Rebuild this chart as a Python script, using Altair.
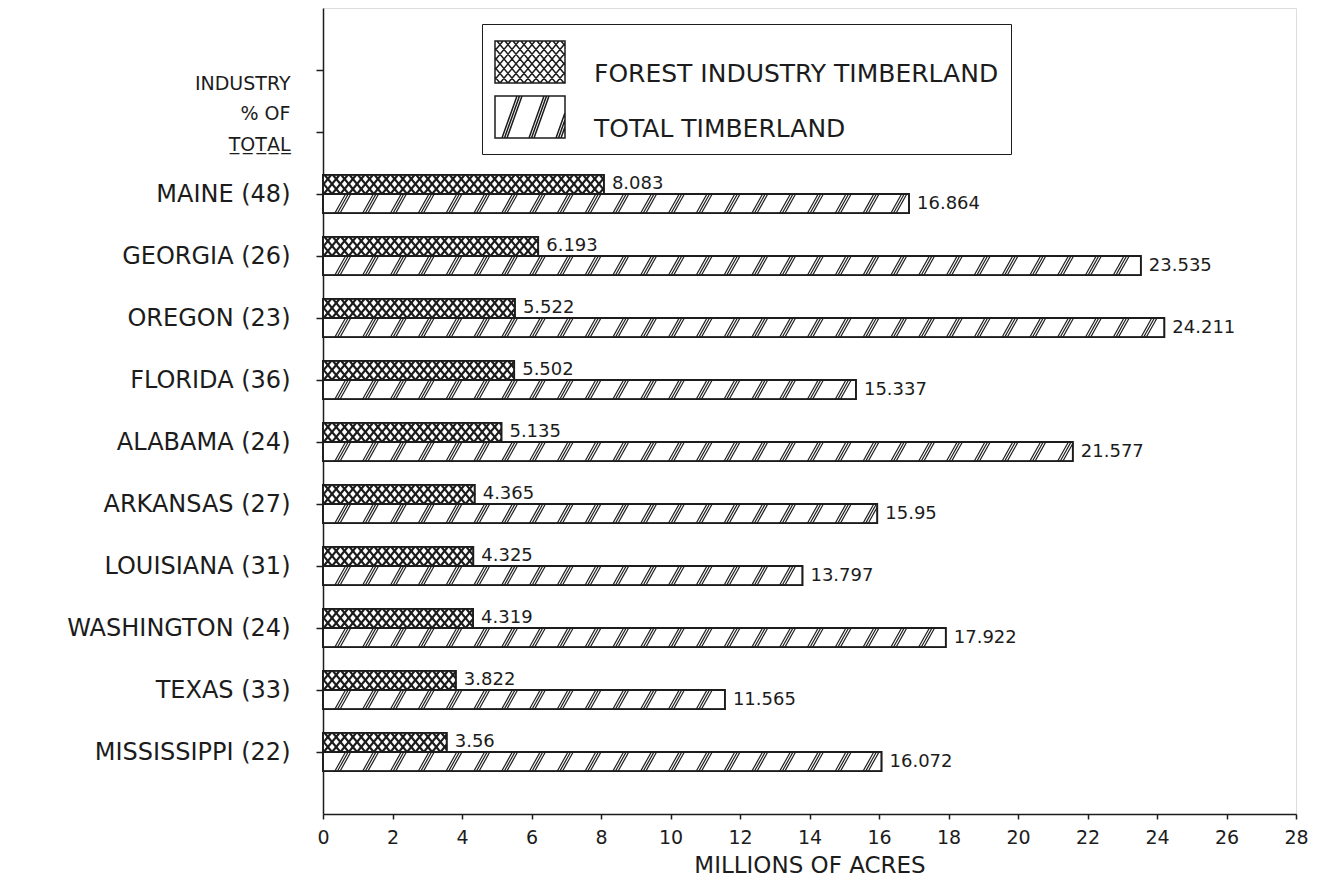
import json
import altair as alt
import pandas as pd

# ---------------- data ----------------
states = ["MAINE", "GEORGIA", "OREGON", "FLORIDA", "ALABAMA",
          "ARKANSAS", "LOUISIANA", "WASHINGTON", "TEXAS", "MISSISSIPPI"]
industry_pct = [48, 26, 23, 36, 24, 27, 31, 24, 33, 22]
forest_industry = [8.083, 6.193, 5.522, 5.502, 5.135, 4.365, 4.325, 4.319, 3.822, 3.56]
total_timberland = [16.864, 23.535, 24.211, 15.337, 21.577, 15.95, 13.797, 17.922, 11.565, 16.072]
forest_labels = ["8.083", "6.193", "5.522", "5.502", "5.135", "4.365", "4.325", "4.319", "3.822", "3.56"]
total_labels = ["16.864", "23.535", "24.211", "15.337", "21.577", "15.95", "13.797", "17.922", "11.565", "16.072"]
header_lines = ["INDUSTRY", "% OF", "TOTAL"]
series_names = ["FOREST INDUSTRY TIMBERLAND", "TOTAL TIMBERLAND"]
x_ticks = [0, 2, 4, 6, 8, 10, 12, 14, 16, 18, 20, 22, 24, 26, 28]
x_title = "MILLIONS OF ACRES"

# ---------------- style ----------------
INK = "#1c1c1c"
FONT = "DejaVu Sans"
FIRST_ROW = 3          # rows 1 and 2 hold the header ticks
N_ROWS = 13
BAR = 0.31             # bar thickness in row units

# ---------------- tables ----------------
rows = []
for i, st in enumerate(states):
    r = FIRST_ROW + i
    rows.append(dict(series=series_names[0], value=forest_industry[i],
                     y0=r - BAR, y1=r, ymid=r - BAR / 2, label=forest_labels[i]))
    rows.append(dict(series=series_names[1], value=total_timberland[i],
                     y0=r, y1=r + BAR, ymid=r + BAR / 2, label=total_labels[i]))
bars_df = pd.DataFrame(rows)


def hatch(x_end, y_top, y_bot, period, lean, offsets=(0.0,)):
    """Hatch segments clipped to a bar running from 0 to x_end."""
    segs = []
    span = abs(lean) + max(offsets)
    k = 0
    while True:
        c = -span + k * period
        if c > x_end + span:
            break
        for off in offsets:
            cc = c + off
            t0 = (0 - cc) / lean
            t1 = (x_end - cc) / lean
            lo = max(0.0, min(t0, t1))
            hi = min(1.0, max(t0, t1))
            if hi - lo > 1e-6:
                segs.append(dict(x=cc + lo * lean, x2=cc + hi * lean,
                                 y=y_bot - lo * (y_bot - y_top),
                                 y2=y_bot - hi * (y_bot - y_top)))
        k += 1
    return segs


cross, diag = [], []
for _, row in bars_df.iterrows():
    if row["series"] == series_names[0]:
        cross += hatch(row["value"], row["y0"], row["y1"], 0.24, 0.46)
        cross += hatch(row["value"], row["y0"], row["y1"], 0.24, -0.46)
    else:
        diag += hatch(row["value"], row["y0"], row["y1"], 0.80, 0.31, (0.0, 0.075, 0.15))
cross_df = pd.DataFrame(cross)
diag_df = pd.DataFrame(diag)


def swatch_path(period, lean, offsets=(0.0,), both=False, w=1.4, h=0.84):
    """Legend symbol: outlined rectangle [-w,w]x[-h,h] with hatch lines."""
    parts = [f"M{-w},{-h}L{w},{-h}L{w},{h}L{-w},{h}Z"]
    leans = [lean, -lean] if both else [lean]
    for ln in leans:
        span = abs(ln) + max(offsets)
        k = 0
        while True:
            c = -w - span + k * period
            if c > w + span:
                break
            for off in offsets:
                cc = c + off
                t0 = (-w - cc) / ln
                t1 = (w - cc) / ln
                lo = max(0.0, min(t0, t1))
                hi = min(1.0, max(t0, t1))
                if hi - lo > 1e-6:
                    xa, ya = cc + lo * ln, h - lo * 2 * h
                    xb, yb = cc + hi * ln, h - hi * 2 * h
                    parts.append(f"M{xa:.3f},{ya:.3f}L{xb:.3f},{yb:.3f}")
            k += 1
    return "".join(parts)


cross_path = swatch_path(0.32, 1.4, both=True)
diag_path = swatch_path(1.08, 0.6, (0.0, 0.1, 0.2))

# ---------------- axes / scales ----------------
underlined = "".join(ch + "\u0332" for ch in header_lines[2])
label_map = [[""], [header_lines[0], header_lines[1], underlined], [""]] + \
    [f"{s} ({p})" for s, p in zip(states, industry_pct)]
label_expr = json.dumps(label_map, ensure_ascii=False) + "[datum.value]"

x_scale = alt.Scale(domain=[0, 28], nice=False, zero=True)
y_scale = alt.Scale(domain=[0, N_ROWS], reverse=True, nice=False, zero=False)

x_axis = alt.Axis(values=x_ticks, title=x_title, grid=False, tickSize=5, tickWidth=1.5,
                  domainWidth=1.5, domainColor=INK, tickColor=INK, labelColor=INK,
                  labelFontSize=19, labelPadding=9, labelFlush=False, labelOverlap=False,
                  titleFontSize=23, titleFontWeight="normal", titleColor=INK, titlePadding=7,
                  labelFont=FONT, titleFont=FONT)
y_axis = alt.Axis(values=list(range(1, FIRST_ROW + len(states))), labelExpr=label_expr,
                  labelFontSize={"condition": {"test": "datum.value < 3", "value": 19}, "value": 24},
                  labelOffset={"condition": {"test": "datum.value < 3", "value": 13}, "value": 0},
                  labelLineHeight=30.5, tickSize=7, tickWidth=1.5, domainWidth=1.5,
                  domainColor=INK, tickColor=INK, labelColor=INK, labelPadding=26,
                  labelOverlap=False, labelFlush=False, labelBound=False, labelLimit=0,
                  minExtent=315, maxExtent=315, title=None, grid=False, labelFont=FONT)

legend = alt.Legend(
    title=None, orient="none", legendX=159, legendY=16,
    strokeColor=INK, padding=12, symbolSize=2500, symbolOffset=10, symbolStrokeColor=INK,
    symbolStrokeWidth=1.5, symbolFillColor="white", symbolOpacity=1,
    labelFontSize=25, labelFont=FONT, labelBaseline="top",
    labelColor=INK, labelOffset=38, rowPadding=4, labelLimit=0,
)

# ---------------- layers ----------------
bars = alt.Chart(bars_df).mark_bar(stroke=INK, strokeWidth=1.5, fill="white").encode(
    x=alt.X("value:Q", scale=x_scale, axis=x_axis),
    x2=alt.datum(0),
    y=alt.Y("y0:Q", scale=y_scale, axis=y_axis),
    y2="y1:Q",
)

cross_rules = alt.Chart(cross_df).mark_rule(color=INK, strokeWidth=2.1).encode(
    x=alt.X("x:Q", scale=x_scale, axis=x_axis),
    x2="x2:Q",
    y=alt.Y("y:Q", scale=y_scale, axis=y_axis),
    y2="y2:Q",
)

diag_rules = alt.Chart(diag_df).mark_rule(color=INK, strokeWidth=1.2).encode(
    x=alt.X("x:Q", scale=x_scale, axis=x_axis),
    x2="x2:Q",
    y=alt.Y("y:Q", scale=y_scale, axis=y_axis),
    y2="y2:Q",
)

outline = alt.Chart(bars_df).mark_bar(stroke=INK, strokeWidth=1.8, fillOpacity=0).encode(
    x=alt.X("value:Q", scale=x_scale, axis=x_axis),
    x2=alt.datum(0),
    y=alt.Y("y0:Q", scale=y_scale, axis=y_axis),
    y2="y1:Q",
)

values = alt.Chart(bars_df).mark_text(align="left", baseline="middle", dx=8, fontSize=18,
                                      font=FONT, color=INK).encode(
    x=alt.X("value:Q", scale=x_scale, axis=x_axis),
    y=alt.Y("ymid:Q", scale=y_scale, axis=y_axis),
    text="label:N",
)

# points kept outside the clipped view: they only carry the legend (hatched swatches)
legend_keys = alt.Chart(pd.DataFrame({"series": series_names})).mark_point(
    filled=False, color=INK, strokeWidth=1.5, opacity=1, clip=True
).encode(
    x=alt.value(-500), y=alt.value(-500),
    shape=alt.Shape("series:N", scale=alt.Scale(domain=series_names, range=[cross_path, diag_path]),
                    legend=legend),
)

chart = alt.layer(bars, diag_rules, cross_rules, outline, values, legend_keys).properties(
    width=973, height=806, padding={"left": 0, "top": 0, "right": 5, "bottom": 0},
).configure_view(stroke=INK, strokeWidth=1.5).configure_legend(strokeWidth=1.5).configure(
    font=FONT
)

chart.save("out.html", embed_options={"renderer": "svg", "actions": False})
